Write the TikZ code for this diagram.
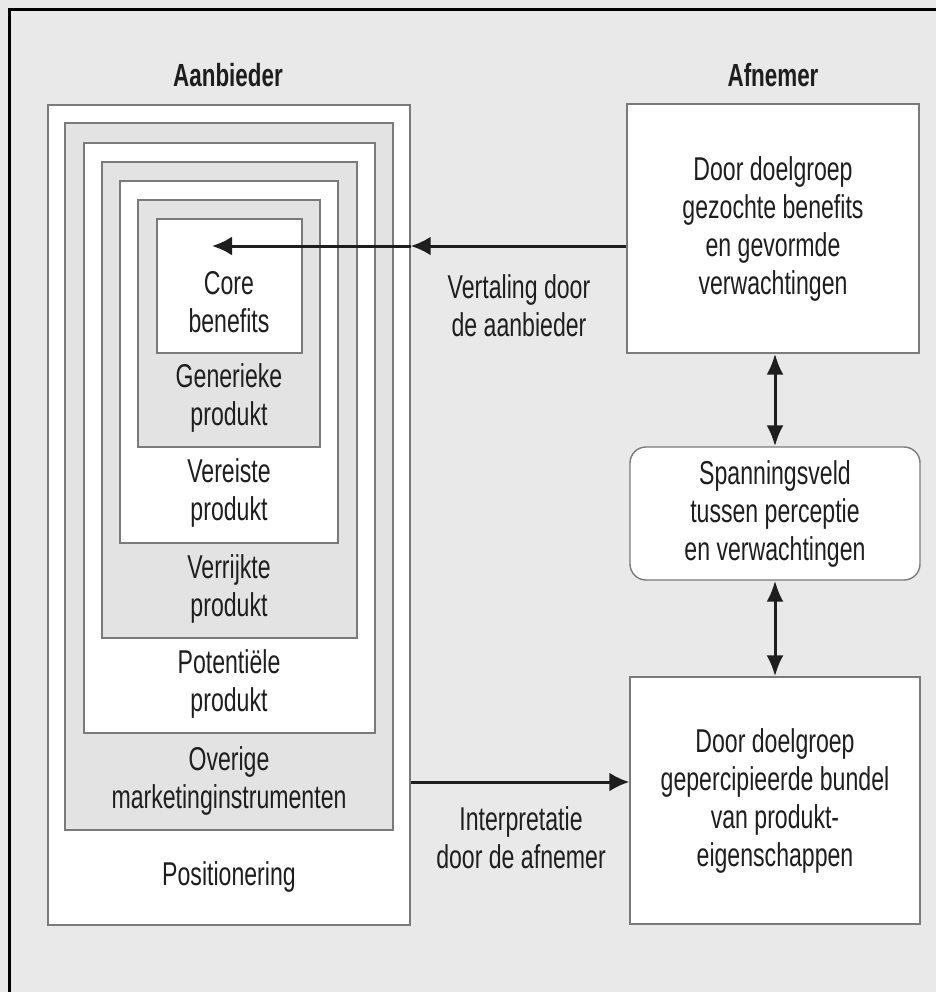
\documentclass[tikz,border=0pt]{standalone}
\usepackage{fontspec}
\setmainfont{Liberation Sans}[FakeStretch=0.70]
\usetikzlibrary{arrows.meta,fit}
\definecolor{bgcol}{HTML}{E9E9E9}
\definecolor{graybox}{HTML}{E3E3E3}
\definecolor{edgecol}{HTML}{7A7A7A}
\definecolor{ink}{HTML}{1E1E1E}
\begin{document}
\begin{tikzpicture}[x=1pt,y=-1pt,
  wbox/.style={draw=edgecol,line width=1.4pt,fill=white,inner sep=0pt},
  gbx/.style={draw=edgecol,line width=1.4pt,fill=graybox,inner sep=0pt},
  txt/.style={font=\fontsize{33}{38}\selectfont,text=ink,align=center,inner sep=0pt},
  head/.style={font=\fontsize{32}{38}\selectfont\bfseries,text=ink,inner sep=0pt},
  arr/.style={draw=ink,line width=3pt,-{Latex[length=20pt,width=19pt]}},
  darr/.style={draw=ink,line width=3pt,{Latex[length=21pt,width=17pt]}-{Latex[length=21pt,width=17pt]}}]
% background and frame
\fill[bgcol] (0,0) rectangle (936,992);
\useasboundingbox (0,0) rectangle (936,992);
\draw[black,line width=3pt] (9.5,992) -- (9.5,9.5) -- (936,9.5);
% headers
\node[head] (hA) at (228,75) {Aanbieder};
\node[head] (hB) at (773,75) {Afnemer};
% nested boxes
\node[wbox, fit={(48,105)(410,925)}] (pos) {};
\node[gbx,  fit={(65,123)(393,830)}] (ove) {};
\node[wbox, fit={(84,143)(375,733)}] (pot) {};
\node[gbx,  fit={(102,162)(357,638)}] (ver) {};
\node[wbox, fit={(120,181)(338,543)}] (req) {};
\node[gbx,  fit={(138,200)(320,447)}] (gen) {};
\node[wbox, fit={(157,219)(302,353)}] (core) {};
% nested labels
\node[txt] (tcore) at (229,302) {Core\\benefits};
\node[txt] (tgen) at (229,398) {Generieke\\produkt};
\node[txt] (treq) at (229,493) {Vereiste\\produkt};
\node[txt] (tver) at (229,589) {Verrijkte\\produkt};
\node[txt] (tpot) at (229,684) {Potentiële\\produkt};
\node[txt] (tove) at (229,781) {Overige\\marketinginstrumenten};
\node[txt] (tpos) at (229,877) {Positionering};
% right boxes
\node[wbox, fit={(627,104)(919,353)}] (exp) {};
\node[wbox, rounded corners=16pt, fit={(630,447)(920,580)}] (span) {};
\node[wbox, fit={(630,677)(920,924)}] (perc) {};
\node[txt] (texp) at (exp.center) {Door doelgroep\\gezochte benefits\\en gevormde\\verwachtingen};
\node[txt] (tspan) at (span.center) {Spanningsveld\\tussen perceptie\\en verwachtingen};
\node[txt] (tperc) at (perc.center) {Door doelgroep\\gepercipieerde bundel\\van produkt-\\eigenschappen};
% arrow labels
\node[txt] (lv) at (519,306) {Vertaling door\\de aanbieder};
\node[txt] (li) at (521,838) {Interpretatie\\door de afnemer};
% arrows
\coordinate (tgt) at (212,246);
\coordinate (by) at (0,782);
\coordinate (vx) at (775,0);
\draw[arr] (exp.west |- tgt) -- (pos.east |- tgt);
\draw[arr] (pos.east |- tgt) -- (tgt);
\draw[arr] (pos.east |- by) -- (perc.west |- by);
\draw[darr] (vx |- exp.south) -- (vx |- span.north);
\draw[darr] (vx |- span.south) -- (vx |- perc.north);
\end{tikzpicture}
\end{document}
